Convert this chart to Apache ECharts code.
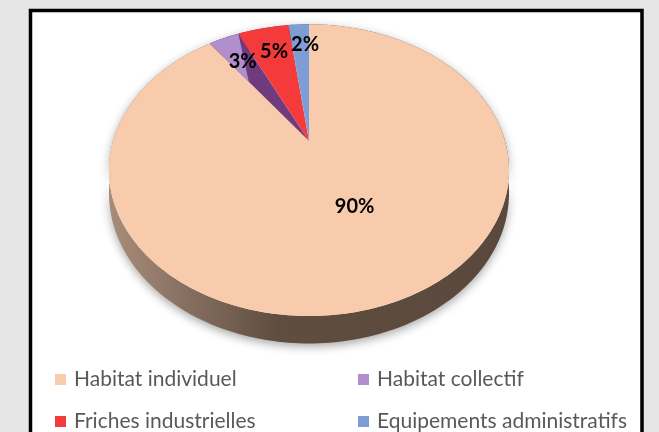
<!DOCTYPE html>
<html><head><meta charset="utf-8">
<script src="https://cdn.jsdelivr.net/npm/echarts@6/dist/echarts.min.js"></script>
<style>html,body{margin:0;padding:0;background:#e6e6e6;} #c{width:659px;height:432px;}</style>
</head><body><div id="c"></div>
<script>
// ---- data ----
const categories = ['Habitat individuel', 'Habitat collectif', 'Friches industrielles', 'Equipements administratifs'];
const values = [90, 3, 5, 2];
const percentLabels = ['90%', '3%', '5%', '2%'];
const colors = ['#f8cbad', '#b08fcc', '#f43a3a', '#7f9dd5'];

// ---- derived ----
const total = values.reduce((s, v) => s + v, 0);
const starts = [];
let acc = 0;
values.forEach(v => { starts.push(acc); acc += v; });

// ---- view / style config ----
const view = { cx: 309, cy: 141, r: 196, tilt: 140 / 196, persp: 0.2, depth: 22 };
const labelFrac = [0.42, 0.75, 0.8, 0.85];
const labelShift = [[18, 5], [0, 1], [3, 4], [5, 5]];
const innerShade = { 1: { color: '#6f3b7d', apexFrac: 0.57 } };
const wallGradient = {
  type: 'linear', x: 110, y: 0, x2: 510, y2: 0, global: true,
  colorStops: [{ offset: 0, color: '#a88c7a' }, { offset: 0.42, color: '#5f4d40' }, { offset: 1, color: '#5a483c' }]
};
const legendX = [55, 358];
const legendY = [369, 411];

function renderSlice(params, api) {
  const i = params.seriesIndex;
  const v0 = api.value(1), v1 = api.value(2);
  const c = api.coord([0, v0]);
  const e = api.coord([1, v0]);
  const pcx = c[0], pcy = c[1];
  const rr = Math.hypot(e[0] - pcx, e[1] - pcy);
  function proj(p) {
    const X = (p[0] - pcx) / rr, Z = (pcy - p[1]) / rr;
    const s = 1 / (1 + view.persp * Z);
    return { x: pcx + rr * X * s, y: pcy - rr * view.tilt * Z * s, s: s };
  }
  const n = Math.max(2, Math.ceil((v1 - v0) / total * 360 / 1.2));
  const top = [], bottom = [];
  for (let k = 0; k <= n; k++) {
    const v = v0 + (v1 - v0) * k / n;
    const q = proj(api.coord([1, v]));
    top.push([q.x, q.y]);
    bottom.push([q.x, q.y + view.depth * q.s]);
  }
  const children = [];
  children.push({
    type: 'polygon', z2: 1,
    shape: { points: top.concat(bottom.slice().reverse()) },
    style: { fill: wallGradient, shadowBlur: 10, shadowColor: 'rgba(0,0,0,0.35)', shadowOffsetY: 3 }
  });
  const shade = innerShade[i];
  children.push({
    type: 'polygon', z2: 5,
    shape: { points: [[pcx, pcy]].concat(top) },
    style: { fill: shade ? shade.color : api.visual('color') }
  });
  if (shade) {
    const a = proj(api.coord([shade.apexFrac, v0]));
    children.push({
      type: 'polygon', z2: 6,
      shape: { points: [[a.x, a.y]].concat(top) },
      style: { fill: api.visual('color') }
    });
  }
  const lp = proj(api.coord([labelFrac[i], (v0 + v1) / 2]));
  children.push({
    type: 'text', z2: 10,
    style: {
      text: percentLabels[i], x: lp.x + labelShift[i][0], y: lp.y + labelShift[i][1],
      fill: '#000', font: 'bold 20px Lato', align: 'center', verticalAlign: 'middle'
    }
  });
  return { type: 'group', children: children };
}

const chart = echarts.init(document.getElementById('c'), null, { renderer: 'canvas' });
chart.setOption({
  animation: false,
  backgroundColor: '#e6e6e6',
  graphic: [{
    type: 'rect', z: -10,
    shape: { x: 30.5, y: 10.5, width: 611.5, height: 440 },
    style: { fill: '#ffffff', stroke: '#000000', lineWidth: 3.5 }
  }],
  polar: { center: [view.cx, view.cy], radius: view.r },
  angleAxis: { type: 'value', min: 0, max: total, startAngle: 90, clockwise: true, show: false },
  radiusAxis: { type: 'value', min: 0, max: 1, show: false },
  legend: categories.map((name, i) => ({
    data: [name], left: legendX[i % 2], top: legendY[Math.floor(i / 2)], padding: 0,
    icon: 'rect', itemWidth: 11, itemHeight: 11, selectedMode: false,
    textStyle: { fontFamily: 'Lato', fontSize: 21, color: '#595959', padding: [0, 0, 0, 3] }
  })),
  series: categories.map((name, i) => ({
    type: 'custom', name: name, coordinateSystem: 'polar', clip: false,
    itemStyle: { color: colors[i] },
    renderItem: renderSlice,
    data: [[1, starts[i], starts[i] + values[i]]]
  }))
});
</script></body></html>
